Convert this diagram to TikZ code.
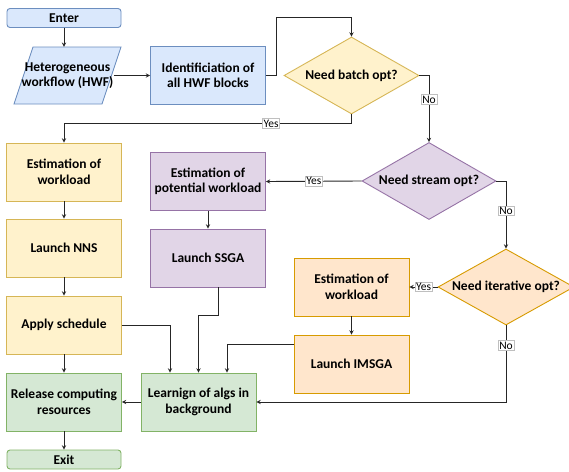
\documentclass[tikz,border=0pt]{standalone}
\usepackage{fontspec}
\setmainfont{Carlito}
\usetikzlibrary{shapes.geometric}

\definecolor{bluefill}{HTML}{DAE8FC}
\definecolor{blueline}{HTML}{6C8EBF}
\definecolor{yellowfill}{HTML}{FFF2CC}
\definecolor{yellowline}{HTML}{D6B656}
\definecolor{purplefill}{HTML}{E1D5E7}
\definecolor{purpleline}{HTML}{9673A6}
\definecolor{orangefill}{HTML}{FFE6CC}
\definecolor{orangeline}{HTML}{D79B00}
\definecolor{greenfill}{HTML}{D5E8D4}
\definecolor{greenline}{HTML}{82B366}

\begin{document}
\begin{tikzpicture}[x=1pt,y=-1pt,>=stealth,
    every node/.style={font=\fontsize{13.5}{15.5}\selectfont\bfseries, align=center},
    box/.style={draw, rectangle, minimum width=115pt, minimum height=58pt, line width=0.9pt},
    term/.style={draw, rectangle, rounded corners=3pt, minimum width=114pt, minimum height=19pt, line width=0.9pt},
    decide/.style={draw, diamond, inner sep=0pt, line width=0.9pt},
    blueish/.style={fill=bluefill, draw=blueline},
    yellowish/.style={fill=yellowfill, draw=yellowline},
    purplish/.style={fill=purplefill, draw=purpleline},
    orangish/.style={fill=orangefill, draw=orangeline},
    greenish/.style={fill=greenfill, draw=greenline},
    flow/.style={->, line width=0.9pt, draw=black!85},
    lbl/.style={fill=white, draw=black!25, line width=0.5pt, inner sep=1pt, font=\fontsize{11.5}{13}\selectfont}]
    \useasboundingbox (0,0) rectangle (569,471);

    % left column
    \node[term, blueish] (enter) at (64,18) {Enter};
    \draw[blueish, line width=0.9pt] (14,104) -- (33,47) -- (121,47) -- (102,104) -- cycle;
    \node[inner sep=0pt, minimum width=88pt, minimum height=57pt] (hwf) at (67.5,75.5) {Heterogeneous\\workflow (HWF)};
    \node[box, blueish] (ident) at (208,75.5) {Identificiation of\\all HWF blocks};
    \node[box, yellowish] (est1) at (64,172) {Estimation of\\workload};
    \node[box, yellowish] (nns) at (64,248) {Launch NNS};
    \node[box, yellowish] (apply) at (64,325) {Apply schedule};
    \node[box, greenish] (release) at (64,402) {Release computing\\resources};
    \node[term, greenish] (exit) at (64,459.5) {Exit};

    % decisions
    \node[decide, yellowish, minimum width=135pt, minimum height=77pt, aspect=1.75] (batch) at (351.5,75.5) {Need batch opt?};
    \node[decide, purplish, minimum width=134pt, minimum height=77pt, aspect=1.75] (stream) at (429,181) {Need stream opt?};
    \node[decide, orangish, minimum width=136pt, minimum height=76pt, aspect=1.75] (iter) at (506,287) {Need iterative opt?};

    % other branches
    \node[box, purplish] (pot) at (208,181.5) {Estimation of\\potential workload};
    \node[box, purplish] (ssga) at (208,258) {Launch SSGA};
    \node[box, orangish] (est3) at (351.5,287) {Estimation of\\workload};
    \node[box, orangish] (imsga) at (351.5,364) {Launch IMSGA};
    \node[box, greenish] (learn) at (198.5,402) {Learnign of algs in\\background};

    \draw[flow] (enter.south) -- (enter.south |- hwf.north);
    \draw[flow] (hwf.east) -- (ident.west);
    \draw[flow] (ident.east) -- ++(10,0) -- ++(0,-58) -| (batch.north);
    \draw[flow] (batch.south) -- ++(0,9) -| node[lbl, pos=0.14] {Yes} (est1.north);
    \draw[flow] (batch.east) -| node[lbl, pos=0.68] {No} (stream.north);
    \draw[flow] (stream.west) -- node[lbl] {Yes} (pot.east);
    \draw[flow] (stream.east) -| node[lbl, pos=0.72] {No} (iter.north);
    \draw[flow] (iter.west) -- node[lbl] {Yes} (est3.east);
    \draw[flow] (iter.south) |- node[lbl, pos=0.13] {No} (learn.east);
    \draw[flow] (pot) -- (ssga);
    \draw[flow] (est3) -- (imsga);
    \draw[flow] (est1) -- (nns);
    \draw[flow] (nns) -- (apply);
    \draw[flow] (apply) -- (release);
    \draw[flow] (release) -- (exit);
    \draw[flow] (learn) -- (release);
    \draw[flow] ([yshift=20pt]imsga.west) -| ([xshift=28.5pt]learn.north);
    \draw[flow] ([xshift=10pt]ssga.south) -- ++(0,28) -| (learn.north);
    \draw[flow] (apply.east) -| ([xshift=-28.5pt]learn.north);
\end{tikzpicture}
\end{document}
